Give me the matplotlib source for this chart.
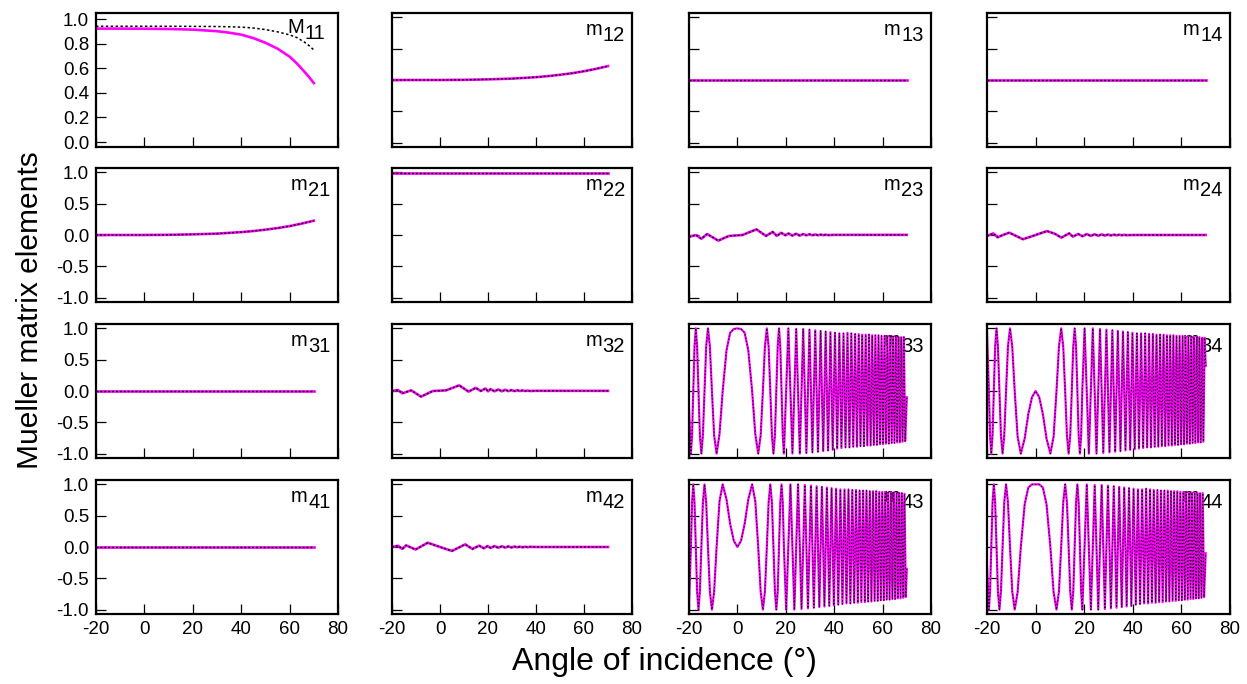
import matplotlib
matplotlib.use("Agg")
import matplotlib.pyplot as plt
from matplotlib.ticker import FormatStrFormatter

plt.rcParams["font.family"] = ["Liberation Sans", "DejaVu Sans"]
plt.rcParams["axes.unicode_minus"] = False

MAG = "#ff00ff"

# ---------------- data ----------------
# M11: the only panel where the two curves split
ang_m11 = [-20, -10, 0, 10, 20, 30, 35, 40, 45, 50, 55, 60, 63, 66, 68, 70]
m11_mag = [0.923, 0.923, 0.922, 0.92, 0.915, 0.902, 0.89, 0.874, 0.846, 0.808,
           0.76, 0.695, 0.64, 0.575, 0.53, 0.48]
m11_dot = [0.942, 0.942, 0.942, 0.942, 0.941, 0.94, 0.938, 0.935, 0.928, 0.915,
           0.897, 0.872, 0.85, 0.815, 0.785, 0.75]

# m12 / m21: flat, then rising towards grazing incidence
ang_rise = [-20, -10, 0, 10, 20, 30, 40, 45, 50, 55, 60, 65, 70]
m12 = [0.0, 0.0, 0.0, 0.003, 0.01, 0.022, 0.045, 0.062, 0.083, 0.108, 0.14, 0.178, 0.222]
m21 = [0.0, 0.0, 0.0, 0.003, 0.01, 0.022, 0.046, 0.063, 0.085, 0.11, 0.142, 0.182, 0.228]

# flat elements
ang_flat = [-20, 0, 20, 40, 60, 70]
m13 = [0.0, 0.0, 0.0, 0.0, 0.0, 0.0]
m14 = [0.0, 0.0, 0.0, 0.0, 0.0, 0.0]
m31 = [0.0, 0.0, 0.0, 0.0, 0.0, 0.0]
m41 = [0.0, 0.0, 0.0, 0.0, 0.0, 0.0]
m22 = [0.99, 0.99, 0.99, 0.99, 0.99, 0.99]

# small ripples (m23, m24, m32, m42): low-angle part per panel + shared tail
ang_23 = [-20, -17.1, -14.9, -12.5, -7.9, -3.5, 2.1, 7.9, 11.8, 14.6, 16.3, 18.1, 19.9]
m23_lo = [-0.03, 0.0, -0.06, 0.015, -0.09, -0.015, 0.0, 0.09, -0.015, 0.05, -0.015, 0.035, -0.005]
ang_32 = [-20, -17.5, -15.7, -12.0, -7.9, -3.0, 2.5, 8.0, 11.9, 14.9, 17.0, 19.0, 20.0]
m32_lo = [0.0, 0.016, -0.037, 0.01, -0.09, 0.0, 0.01, 0.09, -0.01, 0.05, 0.0, 0.04, -0.005]
ang_24 = [-20, -17.4, -15.6, -13.5, -10.8, -5.2, 0.0, 4.7, 7.9, 10.6, 13.8, 15.4, 17.5, 19.3]
m24_lo = [-0.016, 0.026, -0.037, 0.0, 0.037, -0.068, 0.0, 0.063, 0.02, -0.042, 0.026, -0.026,
          0.016, -0.02]
ang_42 = [-20, -17.5, -15.7, -14.1, -10.2, -5.1, 0.0, 5.0, 10.5, 13.5, 16.3, 18.3, 19.8]
m42_lo = [0.0, 0.02, -0.03, 0.026, -0.04, 0.068, 0.0, -0.063, 0.042, -0.031, 0.021, -0.02, 0.015]

ang_tail = [21.1, 22.7, 24.3, 25.8, 27.2, 28.5, 29.8, 31.0, 32.2, 33.3, 34.4, 35.5, 36.5,
            37.5, 40.0, 70.0]
m23_tail = [0.025, -0.01, 0.02, -0.01, 0.015, -0.006, 0.012, -0.005, 0.009, -0.004, 0.007,
            -0.003, 0.005, -0.002, 0.002, 0.002]
m32_tail = [0.03, -0.005, 0.025, -0.005, 0.02, -0.003, 0.015, -0.002, 0.012, 0.0, 0.009, 0.0,
            0.006, 0.0, 0.003, 0.002]
m24_tail = [0.015, -0.015, 0.012, -0.012, 0.01, -0.01, 0.008, -0.008, 0.006, -0.006, 0.005,
            -0.004, 0.003, -0.003, 0.0, 0.0]
m42_tail = [-0.015, 0.015, -0.012, 0.012, -0.01, 0.01, -0.008, 0.008, -0.006, 0.006, -0.005,
            0.004, -0.003, 0.003, 0.0, 0.0]

# big oscillations (m33, m34, m43, m44): extrema, crossings and shoulders
ang_lo = [-20.0, -19.22, -18.74, -18.24, -17.72, -17.19, -16.65, -16.08, -15.50, -14.89,
          -14.26, -13.59, -12.90, -12.16, -11.37, -10.53, -9.61, -8.60, -7.40, -6.08,
          -4.50, -3.00, -1.50, 0.00, 1.50, 3.00, 4.50, 6.08, 7.40, 8.60,
          9.61, 10.53, 11.37, 12.16, 12.90, 13.59, 14.26, 14.89, 15.50, 16.08,
          16.65, 17.19, 17.72, 18.24, 18.74, 19.22]
m33_lo = [-0.3, -1.0, -0.71, 0.0, 0.71, 1.0, 0.71, 0.0, -0.71, -1.0,
          -0.71, 0.0, 0.71, 1.0, 0.71, 0.0, -0.71, -1.0, -0.69, 0.0,
          0.65, 0.93, 0.99, 1.0, 0.99, 0.93, 0.65, 0.0, -0.69, -1.0,
          -0.71, 0.0, 0.71, 1.0, 0.71, 0.0, -0.71, -1.0, -0.71, 0.0,
          0.71, 1.0, 0.71, 0.0, -0.71, -1.0]
m44_lo = [-0.3, -1.0, -0.71, 0.0, 0.71, 1.0, 0.71, 0.0, -0.71, -1.0,
          -0.71, 0.0, 0.71, 1.0, 0.71, 0.0, -0.71, -1.0, -0.72, 0.0,
          0.68, 0.95, 1.0, 1.0, 1.0, 0.95, 0.68, 0.0, -0.72, -1.0,
          -0.71, 0.0, 0.71, 1.0, 0.71, 0.0, -0.71, -1.0, -0.71, 0.0,
          0.71, 1.0, 0.71, 0.0, -0.71, -1.0]
m34_lo = [0.95, 0.0, -0.71, -1.0, -0.71, 0.0, 0.71, 1.0, 0.71, 0.0,
          -0.71, -1.0, -0.71, 0.0, 0.71, 1.0, 0.71, 0.0, -0.73, -1.0,
          -0.76, -0.37, -0.1, 0.0, -0.1, -0.37, -0.76, -1.0, -0.73, 0.0,
          0.71, 1.0, 0.71, 0.0, -0.71, -1.0, -0.71, 0.0, 0.71, 1.0,
          0.71, 0.0, -0.71, -1.0, -0.71, 0.0]
m43_lo = [-0.95, 0.0, 0.71, 1.0, 0.71, 0.0, -0.71, -1.0, -0.71, 0.0,
          0.71, 1.0, 0.71, 0.0, -0.71, -1.0, -0.71, 0.0, 0.73, 1.0,
          0.76, 0.37, 0.1, 0.0, 0.1, 0.37, 0.76, 1.0, 0.73, 0.0,
          -0.71, -1.0, -0.71, 0.0, 0.71, 1.0, 0.71, 0.0, -0.71, -1.0,
          -0.71, 0.0, 0.71, 1.0, 0.71, 0.0]

ang_c_hi = [21.06, 22.75, 24.32, 25.79, 27.19, 28.51, 29.78, 31.00, 32.17, 33.30,
            34.39, 35.45, 36.47, 37.47, 38.45, 39.40, 40.32, 41.23, 42.12, 42.99,
            43.84, 44.67, 45.49, 46.30, 47.09, 47.87, 48.63, 49.39, 50.13, 50.86,
            51.58, 52.29, 53.00, 53.69, 54.37, 55.05, 55.72, 56.37, 57.03, 57.67,
            58.31, 58.94, 59.56, 60.18, 60.79, 61.40, 61.99, 62.59, 63.17, 63.76,
            64.33, 64.91, 65.47, 66.03, 66.59, 67.14, 67.69, 68.24, 68.78, 69.31,
            70.00]
m33_hi = [1.0, -1.0, 0.99, -1.0, 0.99, -0.99, 0.98, -0.98, 0.97, -0.97,
          0.96, -0.96, 0.95, -0.95, 0.94, -0.94, 0.93, -0.92, 0.92, -0.91,
          0.92, -0.90, 0.93, -0.90, 0.92, -0.89, 0.91, -0.89, 0.91, -0.88,
          0.90, -0.88, 0.90, -0.87, 0.90, -0.87, 0.89, -0.86, 0.89, -0.86,
          0.89, -0.85, 0.88, -0.85, 0.88, -0.84, 0.88, -0.84, 0.87, -0.83,
          0.87, -0.83, 0.87, -0.82, 0.86, -0.82, 0.86, -0.81, 0.86, -0.80,
          -0.10]
m44_hi = m33_hi  # indistinguishable from m33 at these angles

ang_s_hi = [20.16, 21.92, 23.54, 25.06, 26.50, 27.86, 29.15, 30.40, 31.59, 32.74,
            33.85, 34.92, 35.96, 36.98, 37.96, 38.92, 39.86, 40.78, 41.68, 42.55,
            43.41, 44.26, 45.08, 45.90, 46.69, 47.48, 48.25, 49.01, 49.76, 50.50,
            51.22, 51.94, 52.65, 53.34, 54.03, 54.71, 55.38, 56.05, 56.70, 57.35,
            57.99, 58.62, 59.25, 59.87, 60.49, 61.09, 61.70, 62.29, 62.88, 63.47,
            64.05, 64.62, 65.19, 65.75, 66.31, 66.87, 67.42, 67.96, 68.51, 69.04,
            69.58, 70.00]
m34_hi = [1.0, -1.0, 1.0, -1.0, 0.99, -0.99, 0.98, -0.98, 0.97, -0.97,
          0.96, -0.96, 0.95, -0.95, 0.94, -0.94, 0.93, -0.93, 0.92, -0.92,
          0.92, -0.91, 0.92, -0.90, 0.91, -0.90, 0.91, -0.89, 0.90, -0.89,
          0.90, -0.88, 0.90, -0.88, 0.89, -0.87, 0.89, -0.87, 0.89, -0.86,
          0.88, -0.86, 0.88, -0.85, 0.88, -0.85, 0.87, -0.84, 0.87, -0.84,
          0.87, -0.83, 0.86, -0.83, 0.86, -0.82, 0.86, -0.82, 0.85, -0.81,
          0.85, 0.40]
m43_hi = [-1.0, 1.0, -1.0, 1.0, -0.99, 0.99, -0.98, 0.98, -0.97, 0.97,
          -0.96, 0.96, -0.95, 0.95, -0.94, 0.94, -0.93, 0.93, -0.92, 0.92,
          -0.91, 0.92, -0.90, 0.92, -0.90, 0.91, -0.89, 0.91, -0.89, 0.90,
          -0.88, 0.90, -0.88, 0.90, -0.87, 0.89, -0.87, 0.89, -0.86, 0.89,
          -0.86, 0.88, -0.85, 0.88, -0.85, 0.88, -0.84, 0.87, -0.84, 0.87,
          -0.83, 0.87, -0.83, 0.86, -0.82, 0.86, -0.82, 0.86, -0.81, 0.85,
          -0.80, -0.35]

# (row, col, letter, digits, x, y)
panels = [
    (0, 0, "M", "11", ang_m11, None),
    (0, 1, "m", "12", ang_rise, m12),
    (0, 2, "m", "13", ang_flat, m13),
    (0, 3, "m", "14", ang_flat, m14),
    (1, 0, "m", "21", ang_rise, m21),
    (1, 1, "m", "22", ang_flat, m22),
    (1, 2, "m", "23", ang_23 + ang_tail, m23_lo + m23_tail),
    (1, 3, "m", "24", ang_24 + ang_tail, m24_lo + m24_tail),
    (2, 0, "m", "31", ang_flat, m31),
    (2, 1, "m", "32", ang_32 + ang_tail, m32_lo + m32_tail),
    (2, 2, "m", "33", ang_lo + ang_c_hi, m33_lo + m33_hi),
    (2, 3, "m", "34", ang_lo + ang_s_hi, m34_lo + m34_hi),
    (3, 0, "m", "41", ang_flat, m41),
    (3, 1, "m", "42", ang_42 + ang_tail, m42_lo + m42_tail),
    (3, 2, "m", "43", ang_lo + ang_s_hi, m43_lo + m43_hi),
    (3, 3, "m", "44", ang_lo + ang_c_hi, m44_lo + m44_hi),
]

# ---------------- layout (pixel boxes of the original) ----------------
W, H = 1247, 684
col_x = [96, 392, 689, 987]
col_w = [242, 240, 242, 243]
row_top = [13, 168, 324, 480]
row_h = 134

fig = plt.figure(figsize=(W / 100, H / 100), dpi=100)

for r, c, letter, digits, x, y in panels:
    ax = fig.add_axes([col_x[c] / W, 1 - (row_top[r] + row_h) / H, col_w[c] / W, row_h / H])
    dense = r >= 2 and c >= 2

    if y is None:
        ax.plot(x, m11_mag, color=MAG, lw=1.9, zorder=2)
        ax.plot(x, m11_dot, color="black", lw=1.1, ls=(0, (1.6, 1.6)), zorder=3)
        ax.set_ylim(-0.04, 1.05)
        ax.set_yticks([0, 0.2, 0.4, 0.6, 0.8, 1.0])
        lx, ly = 0.79, 0.85
    elif dense:
        ax.plot(x, y, color=MAG, lw=1.6, zorder=2)
        ax.plot(x, y, color="black", lw=0.75, ls=(0, (1.3, 1.9)), zorder=3)
    else:
        ax.plot(x, y, color=MAG, lw=1.9, zorder=2)
        ax.plot(x, y, color="black", lw=1.0, ls=(0, (1.4, 1.4)), zorder=3)
    if y is not None:
        ax.set_ylim(-1.07, 1.07)
        ax.set_yticks([-1.0, -0.5, 0.0, 0.5, 1.0])
        lx, ly = 0.806, 0.836

    ax.set_xlim(-20, 80)
    ax.set_xticks([-20, 0, 20, 40, 60, 80])
    ax.yaxis.set_major_formatter(FormatStrFormatter("%.1f"))
    ax.tick_params(direction="in", length=7.5, width=0.9, labelsize=13.5,
                   top=False, right=False, pad=5,
                   labelleft=(c == 0), labelbottom=(r == 3))
    for s in ax.spines.values():
        s.set_linewidth(1.6)

    # panel name; the subscript digits are full size, just dropped below the letter
    t = ax.annotate(letter, xy=(lx, ly), xycoords="axes fraction", fontsize=14.5,
                    ha="left", va="baseline", zorder=1)
    ax.annotate(digits, xy=(1, 0), xycoords=t, xytext=(0.3, -1.5),
                textcoords="offset points", fontsize=14.5, ha="left", va="baseline", zorder=1)

fig.text(0.533, 1 - 662 / H, "Angle of incidence (°)", fontsize=23, ha="center", va="center")
fig.text(30 / W, 1 - 310 / H, "Mueller matrix elements", fontsize=21.5, rotation=90,
         ha="center", va="center")

fig.savefig("out.png", dpi=100)
